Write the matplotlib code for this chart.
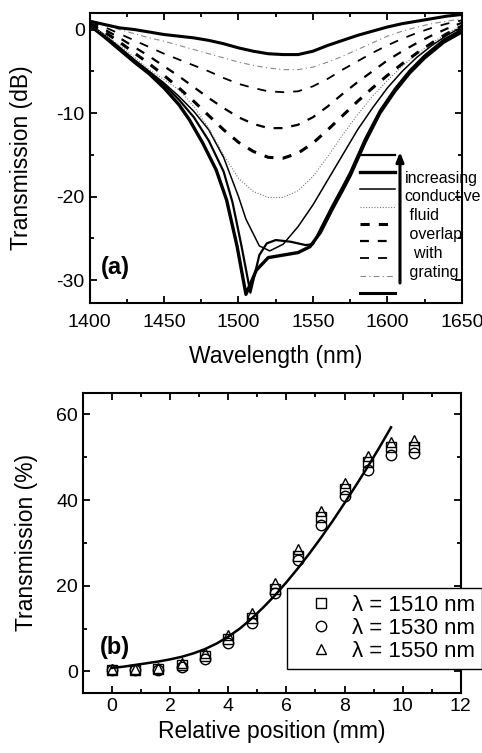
import numpy as np
import matplotlib.pyplot as plt
from matplotlib.ticker import MultipleLocator

plt.rcParams['font.family'] = ['Liberation Sans', 'DejaVu Sans']
plt.rcParams['axes.unicode_minus'] = False

# ---- panel (a): transmission spectra ----
wl = [1400, 1410, 1420, 1430, 1440, 1450, 1460, 1470, 1480, 1490, 1500, 1510, 1520,
      1530, 1540, 1550, 1560, 1570, 1580, 1590, 1600, 1610, 1620, 1630, 1640, 1650]

spec_a = [1.0, 0.6, 0.2, 0.0, -0.3, -0.6, -0.8, -1.0, -1.3, -1.7, -2.2, -2.6, -2.9,
          -3.0, -3.0, -2.6, -1.9, -1.3, -0.7, -0.2, 0.3, 0.7, 1.0, 1.3, 1.6, 1.8]
spec_b = [0.9, 0.5, 0.0, -0.5, -1.0, -1.4, -1.9, -2.4, -2.9, -3.4, -3.9, -4.3, -4.6,
          -4.8, -4.8, -4.5, -3.9, -3.2, -2.4, -1.6, -0.8, -0.2, 0.3, 0.7, 1.0, 1.3]
spec_c = [0.8, 0.3, -0.5, -1.3, -2.1, -2.9, -3.6, -4.3, -5.0, -5.8, -6.5, -7.0, -7.4,
          -7.5, -7.4, -6.8, -5.9, -4.8, -3.8, -2.8, -1.9, -1.1, -0.4, 0.2, 0.7, 1.1]
spec_d = [0.7, 0.0, -1.0, -2.1, -3.2, -4.4, -5.6, -6.9, -8.2, -9.4, -10.5, -11.3, -11.8,
          -11.8, -11.4, -10.5, -9.2, -7.7, -6.3, -5.0, -3.7, -2.6, -1.6, -0.7, 0.1, 0.8]
spec_e = [0.6, -0.3, -1.5, -2.8, -4.1, -5.5, -7.0, -8.6, -10.3, -12.0, -13.5, -14.6, -15.3,
          -15.4, -14.8, -13.6, -12.0, -10.3, -8.6, -7.0, -5.5, -4.1, -2.8, -1.6, -0.5, 0.4]
spec_f = [0.5, -0.6, -1.9, -3.3, -4.8, -6.0, -7.2, -9.2, -11.8, -15.0, -17.8, -19.4, -20.1,
          -20.1, -19.3, -17.6, -15.2, -12.6, -10.2, -8.0, -6.1, -4.4, -2.9, -1.6, -0.5, 0.5]

wl_g = [1400, 1410, 1420, 1430, 1440, 1450, 1460, 1470, 1480, 1490, 1500, 1505, 1514,
        1521, 1530, 1540, 1550, 1560, 1570, 1580, 1590, 1600, 1610, 1620, 1630, 1640, 1650]
spec_g = [0.6, -0.7, -2.1, -3.6, -5.0, -6.4, -8.0, -9.8, -12.0, -15.3, -20.0, -22.7, -25.9,
          -26.5, -25.7, -23.6, -21.0, -18.0, -15.0, -12.0, -9.4, -7.0, -5.0, -3.3, -1.9, -0.7, 0.3]

wl_h = [1400, 1410, 1420, 1430, 1440, 1450, 1460, 1467, 1476, 1485, 1492, 1499, 1505, 1512,
        1520, 1530, 1540, 1548, 1555, 1563, 1570, 1575, 1585, 1595, 1605, 1615, 1625, 1638, 1650]
spec_h = [0.5, -0.9, -2.4, -3.9, -5.3, -7.0, -9.0, -10.8, -13.6, -16.8, -20.4, -25.9, -31.7, -28.8,
          -27.3, -27.0, -26.7, -26.0, -24.3, -21.5, -19.2, -17.5, -13.5, -10.0, -7.4, -5.2, -3.4, -1.5, -0.3]

wl_i = [1400, 1410, 1420, 1430, 1440, 1450, 1460, 1470, 1480, 1490, 1496, 1502, 1508, 1514,
        1519, 1525, 1535, 1545, 1550, 1555, 1563, 1570, 1575, 1585, 1595, 1605, 1615, 1625, 1638, 1650]
spec_i = [0.6, -0.7, -2.2, -3.7, -5.1, -6.6, -8.4, -10.5, -13.3, -17.0, -20.7, -25.9, -31.5, -27.0,
          -25.6, -25.2, -25.4, -25.8, -25.7, -23.9, -21.1, -18.8, -17.1, -13.1, -9.7, -7.1, -4.9, -3.1, -1.2, 0.0]

# ---- panel (b): transmission vs position ----
pos = [0, 0.8, 1.6, 2.4, 3.2, 4.0, 4.8, 5.6, 6.4, 7.2, 8.0, 8.8, 9.6, 10.4]
t1510 = [0.3, 0.3, 0.6, 1.5, 3.7, 7.6, 12.4, 19.3, 27.0, 36.0, 42.5, 49.0, 52.3, 52.5]
t1530 = [0.2, 0.2, 0.3, 1.0, 3.0, 6.6, 11.2, 18.2, 25.9, 34.3, 41.0, 47.1, 50.5, 51.0]
t1550 = [0.6, 0.5, 0.9, 1.9, 4.4, 8.4, 13.6, 20.6, 28.5, 37.4, 44.0, 50.3, 53.6, 54.0]

fit_x = [0, 0.4, 0.8, 1.2, 1.6, 2.0, 2.4, 2.8, 3.2, 3.6, 4.0, 4.4, 4.8,
         5.2, 5.6, 6.0, 6.4, 6.8, 7.2, 7.6, 8.0, 8.4, 8.8, 9.2, 9.6]
fit_y = [0.8, 1.1, 1.5, 1.9, 2.3, 2.8, 3.4, 4.2, 5.2, 6.5, 8.1, 10.0, 12.3,
         14.9, 17.7, 20.8, 24.1, 27.6, 31.3, 35.2, 39.3, 43.5, 47.8, 52.3, 57.0]

fig = plt.figure(figsize=(4.82, 7.53), dpi=100)

def style_axes(ax):
    for s in ax.spines.values():
        s.set_linewidth(1.5)
    ax.tick_params(which='both', direction='in', top=True, right=True, width=1.3,
                   labelsize=14)
    ax.tick_params(which='major', length=5)
    ax.tick_params(which='minor', length=3)

# panel (a)
ax1 = fig.add_axes([0.186, 0.598, 0.772, 0.385])
curves = [
    (wl_i, spec_i, dict(color='black', lw=1.6, ls='-')),
    (wl_h, spec_h, dict(color='black', lw=2.4, ls='-')),
    (wl_g, spec_g, dict(color='black', lw=1.1, ls='-')),
    (wl, spec_f, dict(color='#777777', lw=0.8, ls=(0, (1, 1.5)))),
    (wl, spec_e, dict(color='black', lw=2.2, ls=(0, (3, 3)))),
    (wl, spec_d, dict(color='black', lw=1.6, ls=(0, (4, 4)))),
    (wl, spec_c, dict(color='black', lw=1.3, ls=(0, (5, 5)))),
    (wl, spec_b, dict(color='#888888', lw=0.8, ls=(0, (5, 3, 1, 3)))),
    (wl, spec_a, dict(color='black', lw=2.2, ls='-')),
]
for x, y, kw in curves:
    ax1.plot(x, y, **kw)

# legend key lines (deepest dip at the top)
key_y = np.linspace(0.510, 0.034, len(curves))
for (x, y, kw), ky in zip(curves, key_y):
    ax1.plot([0.727, 0.820], [ky, ky], transform=ax1.transAxes, clip_on=False, **kw)
ax1.annotate('', xy=(0.834, 0.52), xytext=(0.834, 0.068), xycoords='axes fraction',
             arrowprops=dict(arrowstyle='-|>,head_width=0.22,head_length=0.55',
                             color='black', lw=2.2, shrinkA=0, shrinkB=0))
key_text = ['increasing', 'conductive', ' fluid', ' overlap', '  with', ' grating']
for k, t in enumerate(key_text):
    ax1.text(0.847, 0.43 - k * 0.065, t, transform=ax1.transAxes, fontsize=11.5,
             va='center', ha='left', clip_on=False)

ax1.set_xlim(1400, 1650)
ax1.set_ylim(-32.7, 2)
ax1.xaxis.set_major_locator(MultipleLocator(50))
ax1.xaxis.set_minor_locator(MultipleLocator(25))
ax1.yaxis.set_major_locator(MultipleLocator(10))
ax1.yaxis.set_minor_locator(MultipleLocator(5))
ax1.set_xlabel('Wavelength (nm)', fontsize=16.5, labelpad=10)
ax1.set_ylabel('Transmission (dB)', fontsize=16.5, labelpad=17)
ax1.text(0.03, 0.12, '(a)', transform=ax1.transAxes, fontsize=17, fontweight='bold',
         va='center')
style_axes(ax1)
ax1.tick_params(axis='x', pad=8)

# panel (b)
ax2 = fig.add_axes([0.172, 0.080, 0.784, 0.398])
mk = dict(mfc='none', mec='black', mew=1.0, ms=7.5, ls='none')
ax2.plot(pos, t1510, marker='s', label=u'\u03bb = 1510 nm', **mk)
ax2.plot(pos, t1530, marker='o', label=u'\u03bb = 1530 nm', **mk)
ax2.plot(pos, t1550, marker='^', label=u'\u03bb = 1550 nm', **mk)
ax2.plot(fit_x, fit_y, color='black', lw=1.8)

leg = ax2.legend(loc='upper left', bbox_to_anchor=(0.54, 0.35), fontsize=16,
                 frameon=True, fancybox=False, edgecolor='black', framealpha=1,
                 handlelength=2.45, handletextpad=0.18, labelspacing=0.1,
                 borderpad=0.3, borderaxespad=0, numpoints=1)
leg.get_frame().set_linewidth(1.0)

ax2.set_xlim(-1, 12)
ax2.set_ylim(-5, 65)
ax2.xaxis.set_major_locator(MultipleLocator(2))
ax2.xaxis.set_minor_locator(MultipleLocator(1))
ax2.yaxis.set_major_locator(MultipleLocator(20))
ax2.yaxis.set_minor_locator(MultipleLocator(10))
ax2.set_xlabel('Relative position (mm)', fontsize=16.5)
ax2.set_ylabel('Transmission (%)', fontsize=16.5, labelpad=13)
ax2.text(0.045, 0.15, '(b)', transform=ax2.transAxes, fontsize=17, fontweight='bold',
         va='center')
style_axes(ax2)

fig.savefig('out.png', dpi=100)
